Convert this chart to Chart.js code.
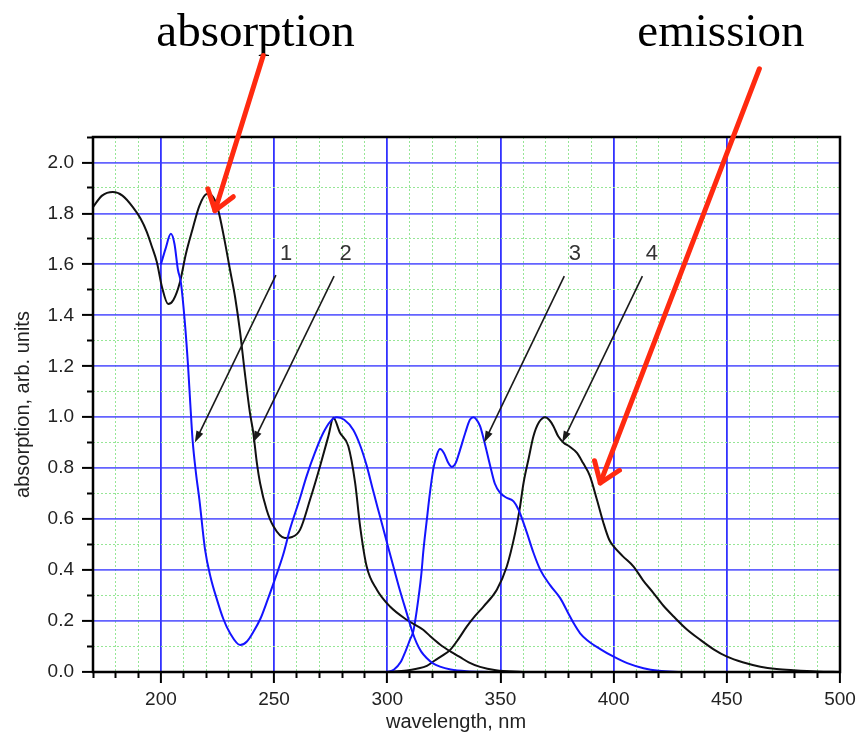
<!DOCTYPE html>
<html>
<head>
<meta charset="utf-8">
<script src="https://cdn.jsdelivr.net/npm/chart.js@4.4.1/dist/chart.umd.min.js"></script>
<style>
  body { margin: 0; background: #fff; }
  canvas { display: block; }
</style>
</head>
<body>
<canvas id="spectra" width="861" height="741"></canvas>
<script>
// curve 1 - absorption (blue)
const abs1X = [200, 202, 204.4, 206, 207.5, 208.8, 210.5, 212, 213, 214, 215.5, 217, 219.5, 222, 224.8, 227.5, 230.5, 235, 238, 241, 244, 247, 250, 254, 257, 261, 264.4, 268, 271.8, 275, 277.7, 281, 285, 288, 290.9, 293.8, 296.8, 299.8, 302.7, 305.6, 308.6, 311, 313, 315, 317.5, 320, 323.3, 328, 335, 345];
const abs1Y = [1.60, 1.66, 1.72, 1.68, 1.58, 1.53, 1.38, 1.20, 1.05, 0.91, 0.78, 0.677, 0.48, 0.37, 0.283, 0.21, 0.153, 0.106, 0.12, 0.16, 0.21, 0.28, 0.355, 0.46, 0.56, 0.67, 0.77, 0.86, 0.94, 0.985, 1.0, 0.99, 0.95, 0.89, 0.81, 0.71, 0.61, 0.51, 0.414, 0.32, 0.231, 0.16, 0.113, 0.08, 0.054, 0.035, 0.021, 0.01, 0.003, 0];

// curve 2 - absorption (black)
const abs2X = [170, 174, 178.8, 183, 187.6, 191, 193.8, 196, 198.2, 200.5, 203.2, 205.5, 208.4, 211, 214, 217, 220.3, 222.5, 225.2, 228, 230.5, 232.8, 234.9, 237, 239.3, 240.8, 242.4, 243.8, 246.7, 249.7, 254.8, 258, 261.5, 265.9, 270.3, 274, 276.2, 279.1, 282.8, 285.8, 288, 290.9, 295.4, 301.2, 308.6, 316, 319, 323.3, 328, 332.2, 336, 341, 348, 360];
const abs2Y = [1.825, 1.87, 1.884, 1.87, 1.825, 1.78, 1.727, 1.67, 1.609, 1.51, 1.444, 1.46, 1.53, 1.64, 1.739, 1.83, 1.876, 1.87, 1.817, 1.70, 1.58, 1.47, 1.34, 1.18, 1.019, 0.94, 0.82, 0.742, 0.637, 0.572, 0.526, 0.53, 0.559, 0.677, 0.808, 0.926, 0.998, 0.939, 0.886, 0.742, 0.572, 0.414, 0.323, 0.257, 0.205, 0.165, 0.14, 0.108, 0.08, 0.058, 0.038, 0.02, 0.007, 0];

// curve 3 - emission (blue)
const em3X = [299.8, 303, 306, 308, 310, 311.5, 313, 315, 316, 317.5, 318.8, 320.4, 322, 323.3, 325, 327, 328.5, 330.2, 332.2, 334.5, 336.5, 338.1, 339.5, 341, 343, 345.5, 347.5, 349.9, 352.5, 355.8, 358, 361.7, 364.5, 367.6, 372, 376.4, 380, 382.3, 385.2, 388.2, 394.1, 400, 406, 413.2, 420, 430];
const em3Y = [0, 0.01, 0.04, 0.08, 0.126, 0.16, 0.24, 0.38, 0.48, 0.6, 0.7, 0.8, 0.855, 0.875, 0.86, 0.82, 0.805, 0.82, 0.873, 0.94, 0.99, 1.0, 0.99, 0.965, 0.9, 0.808, 0.74, 0.703, 0.685, 0.67, 0.637, 0.546, 0.47, 0.401, 0.34, 0.29, 0.23, 0.192, 0.152, 0.126, 0.09, 0.06, 0.035, 0.015, 0.005, 0];

// curve 4 - emission (black)
const em4X = [300, 308.6, 313, 317.5, 321, 324.5, 327.8, 331.5, 335.1, 338.8, 342.5, 348.4, 352.8, 356.5, 358.5, 360.2, 362.5, 364.6, 367, 369.8, 371.5, 373.4, 375.5, 377.9, 380.5, 383.8, 386.5, 389.5, 392.6, 395.5, 398, 400, 404, 408.8, 413, 417.6, 422, 426.5, 432, 438.3, 444, 450.1, 457, 464.8, 472, 479.6, 490, 500];
const em4Y = [0, 0.006, 0.013, 0.024, 0.045, 0.065, 0.087, 0.13, 0.178, 0.22, 0.257, 0.323, 0.414, 0.546, 0.64, 0.742, 0.84, 0.926, 0.98, 1.0, 0.99, 0.965, 0.925, 0.9, 0.885, 0.86, 0.82, 0.77, 0.677, 0.585, 0.52, 0.493, 0.455, 0.414, 0.36, 0.31, 0.26, 0.218, 0.17, 0.126, 0.09, 0.06, 0.038, 0.021, 0.012, 0.007, 0.002, 0];

// tick labels
const xLabels = [200, 250, 300, 350, 400, 450, 500];
const yLabels = ['0.0', '0.2', '0.4', '0.6', '0.8', '1.0', '1.2', '1.4', '1.6', '1.8', '2.0'];

// annotations, in data units (wavelength, intensity)
const curveNames = ['1', '2', '3', '4'];
const namePos = [[255.3, 1.642], [281.6, 1.642], [382.9, 1.642], [416.9, 1.642]];
const pointerFrom = [[250.8, 1.558], [276.5, 1.554], [378.2, 1.554], [412.7, 1.554]];
const pointerTo = [[215.0, 0.901], [240.7, 0.901], [342.8, 0.901], [377.3, 0.901]];
const headings = ['absorption', 'emission'];
const headingPos = [[241.8, 2.459], [447.4, 2.459]];
const redFrom = [[245.2, 2.42], [464.4, 2.368]];
const redTo = [[223.9, 1.811], [394.1, 0.742]];

function pairs(xs, ys) {
    return xs.map((x, i) => ({ x: x, y: ys[i] }));
}

function isMajorX(v) { return Math.round(v) % 50 === 0; }
function isMajorY(v) { return Math.round(v * 10) % 2 === 0; }

function curve(xs, ys, color) {
    return {
        data: pairs(xs, ys),
        borderColor: color,
        borderWidth: 2,
        pointRadius: 0,
        fill: false,
        cubicInterpolationMode: 'monotone'
    };
}

function drawArrow(ctx, a, b, len, spread, filled) {
    const ang = Math.atan2(b[1] - a[1], b[0] - a[0]);
    ctx.beginPath();
    ctx.moveTo(a[0], a[1]);
    ctx.lineTo(filled ? b[0] - Math.cos(ang) * len * 0.8 : b[0], filled ? b[1] - Math.sin(ang) * len * 0.8 : b[1]);
    ctx.stroke();
    const p1 = [b[0] - len * Math.cos(ang - spread), b[1] - len * Math.sin(ang - spread)];
    const p2 = [b[0] - len * Math.cos(ang + spread), b[1] - len * Math.sin(ang + spread)];
    ctx.beginPath();
    if (filled) {
        ctx.moveTo(b[0], b[1]);
        ctx.lineTo(p1[0], p1[1]);
        ctx.lineTo(p2[0], p2[1]);
        ctx.closePath();
        ctx.fill();
    } else {
        ctx.moveTo(p1[0], p1[1]);
        ctx.lineTo(b[0], b[1]);
        ctx.lineTo(p2[0], p2[1]);
        ctx.stroke();
    }
}

const decorations = {
    id: 'decorations',
    afterDatasetsDraw(chart) {
        const ctx = chart.ctx;
        const a = chart.chartArea;
        ctx.save();
        ctx.strokeStyle = '#000';
        ctx.lineWidth = 2.5;
        ctx.strokeRect(a.left, a.top, a.right - a.left, a.bottom - a.top);

        // axis titles
        ctx.fillStyle = '#222';
        ctx.font = '20px "Liberation Sans", Arial, sans-serif';
        ctx.textAlign = 'center';
        ctx.textBaseline = 'middle';
        ctx.fillText('wavelength, nm', 456, 722);
        ctx.translate(23, (a.top + a.bottom) / 2);
        ctx.rotate(-Math.PI / 2);
        ctx.fillText('absorption, arb. units', 0, 0);
        ctx.restore();
    },
    afterDraw(chart) {
        const ctx = chart.ctx;
        const sx = chart.scales.x, sy = chart.scales.y;
        const at = p => [sx.getPixelForValue(p[0]), sy.getPixelForValue(p[1])];
        ctx.save();

        // numbered pointers
        ctx.strokeStyle = '#1a1a1a';
        ctx.fillStyle = '#1a1a1a';
        ctx.lineWidth = 1.6;
        pointerFrom.forEach((p, i) => drawArrow(ctx, at(p), at(pointerTo[i]), 12, 0.32, true));
        ctx.fillStyle = '#333';
        ctx.font = '22px "Liberation Sans", Arial, sans-serif';
        ctx.textAlign = 'center';
        ctx.textBaseline = 'middle';
        curveNames.forEach((t, i) => {
            const p = at(namePos[i]);
            ctx.fillText(t, p[0], p[1]);
        });

        // headings with red arrows
        ctx.fillStyle = '#000';
        ctx.font = '47px "Liberation Serif", "Times New Roman", serif';
        ctx.textBaseline = 'alphabetic';
        headings.forEach((t, i) => {
            const p = at(headingPos[i]);
            ctx.fillText(t, p[0], p[1]);
        });
        ctx.strokeStyle = '#ff2a10';
        ctx.lineWidth = 5;
        ctx.lineCap = 'round';
        ctx.lineJoin = 'round';
        redFrom.forEach((p, i) => drawArrow(ctx, at(p), at(redTo[i]), 23, 0.62, false));
        ctx.restore();
    }
};

const ctx = document.getElementById('spectra').getContext('2d');
new Chart(ctx, {
    type: 'line',
    data: {
        datasets: [
            curve(abs1X, abs1Y, '#1414ff'),
            curve(abs2X, abs2Y, '#111'),
            curve(em3X, em3Y, '#1414ff'),
            curve(em4X, em4Y, '#111')
        ]
    },
    plugins: [decorations],
    options: {
        responsive: false,
        animation: false,
        devicePixelRatio: 1,
        layout: { padding: { top: 137, right: 21, left: 0, bottom: 0 } },
        plugins: { legend: { display: false }, tooltip: { enabled: false } },
        scales: {
            x: {
                type: 'linear',
                min: 170,
                max: 500,
                afterFit: s => { s.height = 69; },
                border: {
                    display: false,
                    dash: c => isMajorX(c.tick.value) ? [] : [2, 2]
                },
                grid: {
                    color: c => isMajorX(c.tick.value) ? 'rgb(50,50,255)' : 'rgb(150,230,150)',
                    lineWidth: c => isMajorX(c.tick.value) ? 1.8 : 1,
                    tickColor: '#000',
                    tickWidth: 2,
                    tickLength: 11,
                    tickBorderDash: c => isMajorX(c.tick.value) ? [] : [6, 100]
                },
                ticks: {
                    stepSize: 10,
                    autoSkip: false,
                    maxRotation: 0,
                    padding: 5,
                    color: '#222',
                    font: { family: '"Liberation Sans", Arial, sans-serif', size: 19 },
                    callback: v => xLabels.includes(Math.round(v)) ? String(Math.round(v)) : ''
                }
            },
            y: {
                min: 0,
                max: 2.1,
                afterFit: s => { s.width = 93; },
                border: {
                    display: false,
                    dash: c => isMajorY(c.tick.value) ? [] : [2, 2]
                },
                grid: {
                    color: c => isMajorY(c.tick.value) ? 'rgba(60,60,255,0.8)' : 'rgb(150,230,150)',
                    lineWidth: c => isMajorY(c.tick.value) ? 1.8 : 1,
                    tickColor: '#000',
                    tickWidth: 2,
                    tickLength: 11,
                    tickBorderDash: c => isMajorY(c.tick.value) ? [] : [0, 5, 6, 100]
                },
                ticks: {
                    stepSize: 0.1,
                    autoSkip: false,
                    padding: 8,
                    color: '#222',
                    font: { family: '"Liberation Sans", Arial, sans-serif', size: 19 },
                    callback: v => {
                        const t = v.toFixed(1);
                        return yLabels.includes(t) ? t : '';
                    }
                }
            }
        }
    }
});
</script>
</body>
</html>
